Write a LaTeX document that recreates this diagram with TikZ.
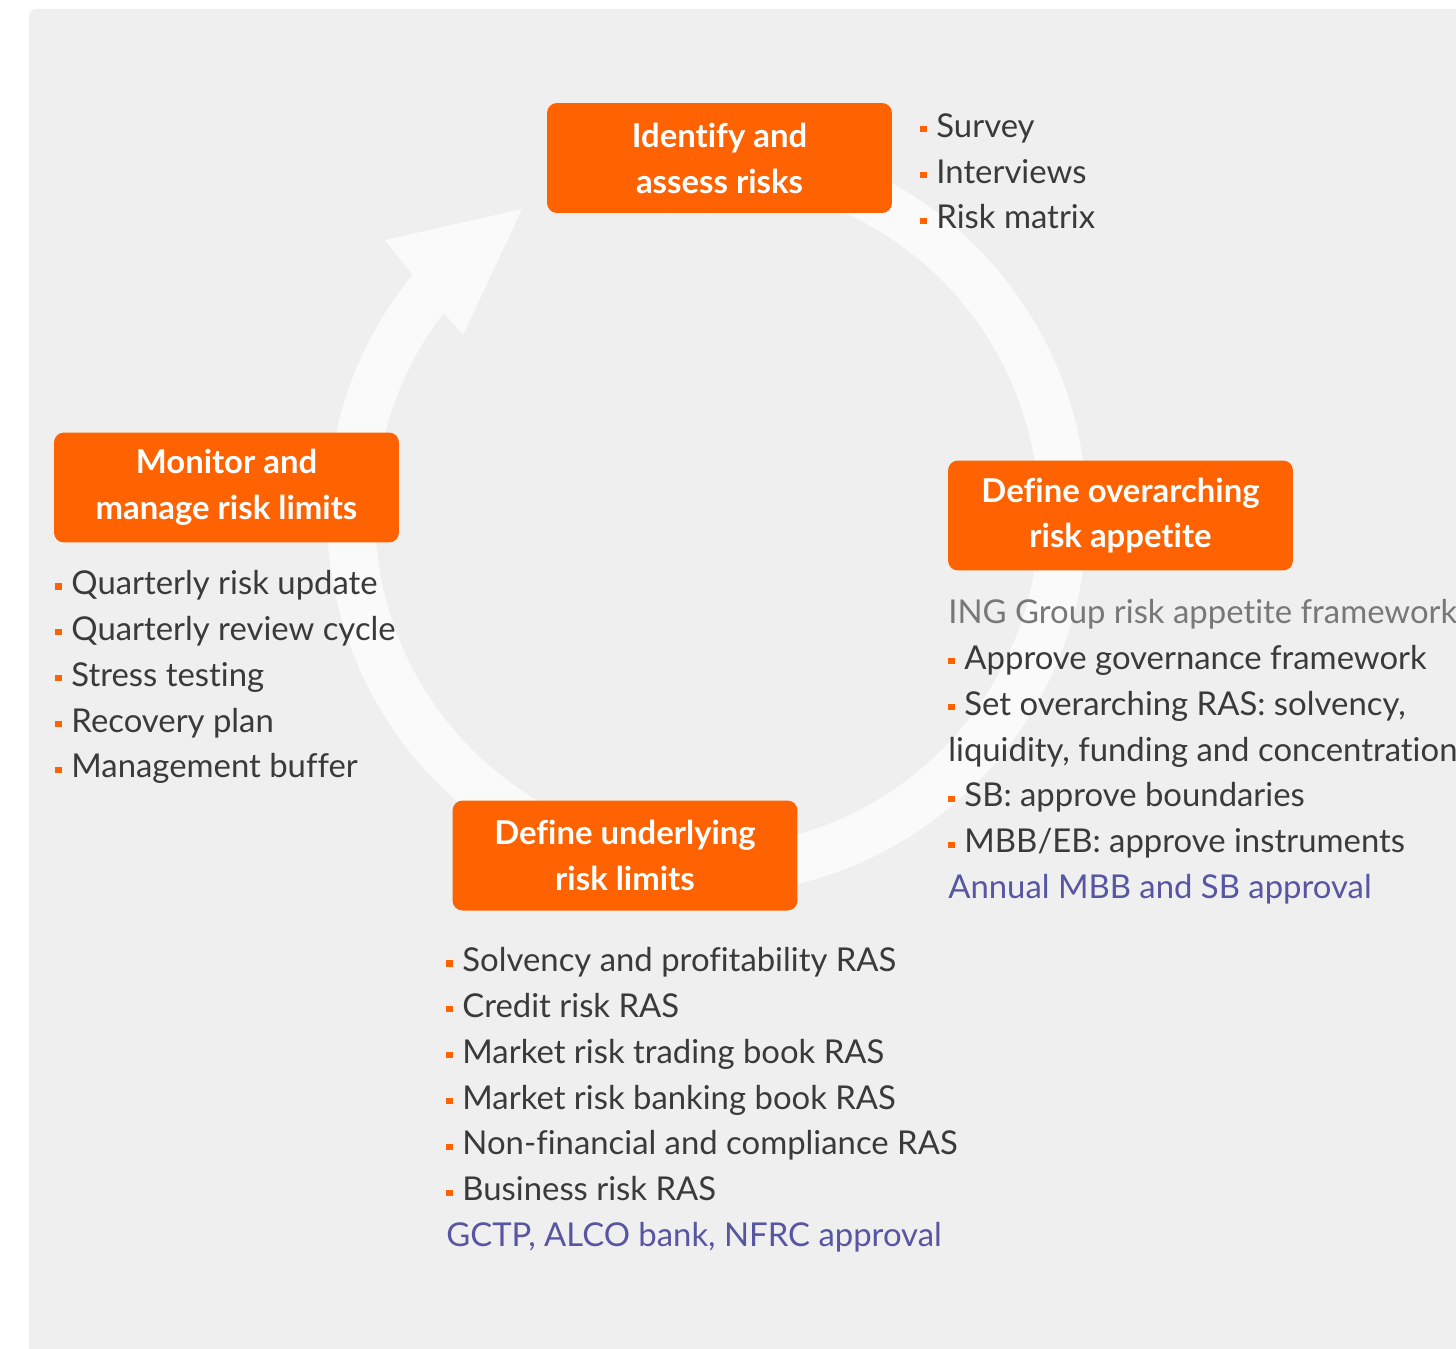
\documentclass[tikz,border=0pt]{standalone}
\usepackage{fontspec}
\setmainfont{Lato}[Ligatures={NoCommon,NoRare,NoDiscretionary}]
\definecolor{ingorange}{HTML}{FF6200}
\definecolor{panel}{HTML}{EFEFEF}
\definecolor{ring}{HTML}{FAFAFA}
\definecolor{textgray}{HTML}{3A3A3A}
\definecolor{subgray}{HTML}{787878}
\definecolor{approval}{HTML}{5656A2}
\newcommand\bul{{\color{ingorange}\rule[0.3ex]{0.19em}{0.19em}}\hspace{0.3em}}

\tikzstyle{stage}=[fill=ingorange, rounded corners=0.2cm, minimum width=6.9cm,
  minimum height=2.2cm, inner sep=0, text=white, align=center,
  font=\bfseries\fontsize{18.7}{26.1}\selectfont]
\tikzstyle{list}=[anchor=north west, inner sep=0, text=textgray, align=left,
  font=\fontsize{18.7}{26.1}\selectfont]

\begin{document}
\begin{tikzpicture}[x=0.02cm, y=-0.02cm]
\useasboundingbox (0,0) rectangle (1456,1348);
\fill[panel, rounded corners=0.15cm] (29,9) rectangle (1490,1380);
%
% cycle ring with its arrow head
\begin{scope}[shift={(707,515)}, yscale=-1]
\fill[ring] (100:380) arc[start angle=100, end angle=-219.2, radius=380]
  -- (-322,275) -- (-185,306) -- (-244,180)
  -- (-217.5:332) arc[start angle=-217.5, end angle=100, radius=332] -- cycle;
\end{scope}
%
\draw (719.5,158) node[stage] (identify) {Identify and\\assess risks};
\draw (920,113) node[list] (tools) {\bul Survey\\ \bul Interviews\\ \bul Risk matrix};
%
\draw (1120.5,515.5) node[stage] (overarching) {Define overarching\\risk appetite};
\draw (948,599) node[list] (framework) {{\color{subgray}ING Group risk appetite framework}\\
  \bul Approve governance framework\\
  \bul Set overarching RAS: solvency,\\
  liquidity, funding and concentration\\
  \bul SB: approve boundaries\\
  \bul MBB/EB: approve instruments\\
  {\color{approval}Annual MBB and SB approval}};
%
\draw (625,855.5) node[stage] (underlying) {Define underlying\\risk limits};
\draw (446,947) node[list] (limits) {\bul Solvency and profitability RAS\\
  \bul Credit risk RAS\\
  \bul Market risk trading book RAS\\
  \bul Market risk banking book RAS\\
  \bul Non-financial and compliance RAS\\
  \bul Business risk RAS\\
  {\color{approval}GCTP, ALCO bank, NFRC approval}};
%
\draw (226.5,487.5) node[stage] (monitor) {Monitor and\\manage risk limits};
\draw (55,570) node[list] (monitoring) {\bul Quarterly risk update\\
  \bul Quarterly review cycle\\
  \bul Stress testing\\
  \bul Recovery plan\\
  \bul Management buffer};
\end{tikzpicture}
\end{document}
